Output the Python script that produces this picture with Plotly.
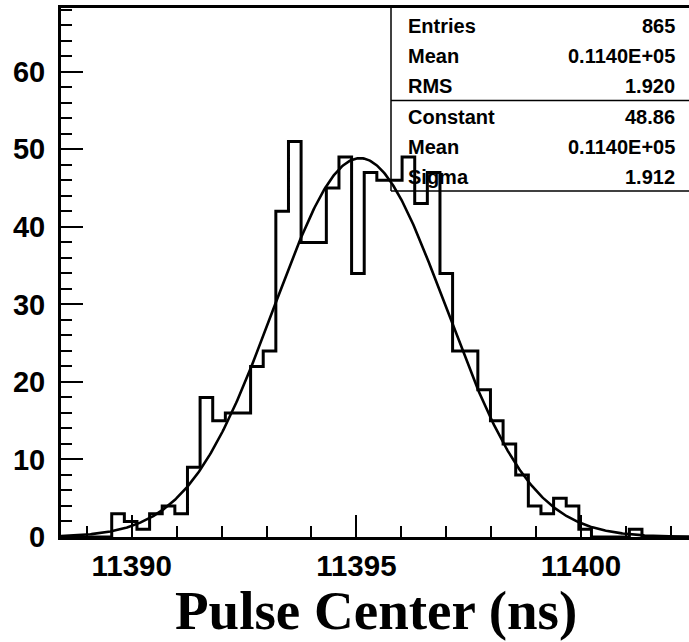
import numpy as np
import plotly.graph_objects as go

# ---------------- data ----------------
hist_start = 11388.431      # low edge of first bin (ns)
bin_width = 0.281           # ns
counts = [0, 0, 0, 0, 3, 2, 1, 3, 4, 3,
          9, 18, 15, 16, 16, 22, 24, 42, 51, 38,
          38, 45, 49, 34, 47, 46, 46, 49, 43, 47,
          34, 24, 24, 19, 15, 12, 8, 4, 3, 5,
          4, 1, 0, 0, 0, 1, 0, 0, 0, 0]

fit_constant = 48.86
fit_mean = 11395.08
fit_sigma = 1.912

stats_top_labels = ["Entries", "Mean", "RMS"]
stats_top_values = ["865", "0.1140E+05", "1.920"]
stats_fit_labels = ["Constant", "Mean", "Sigma"]
stats_fit_values = ["48.86", "0.1140E+05", "1.912"]

x_range = [11388.426, 11402.404]
y_range = [0, 68.23]
x_title = "Pulse Center (ns)"

# ---------------- geometry (pixels) ----------------
W, H = 689, 642
ML, MR, MT, MB = 61, 0, 8, 105
PW, PH = W - ML - MR, H - MT - MB


def px(xp):
    return (xp - ML) / PW


def py(yp):
    return (MT + PH - yp) / PH


# ---------------- histogram outline ----------------
edges = [hist_start + k * bin_width for k in range(len(counts) + 1)]
hx = edges
hy = counts + [counts[-1]]

fig = go.Figure()
fig.add_trace(go.Scatter(
    x=hx, y=hy, mode="lines", line=dict(shape="hv", color="black", width=3),
    hoverinfo="skip", showlegend=False))

# ---------------- fit curve ----------------
gx = np.linspace(x_range[0], x_range[1], 600)
gy = fit_constant * np.exp(-0.5 * ((gx - fit_mean) / fit_sigma) ** 2)
fig.add_trace(go.Scatter(
    x=gx, y=gy, mode="lines", line=dict(color="black", width=2.6),
    hoverinfo="skip", showlegend=False))

# ---------------- stats box ----------------
box_left, box_top, box_sep, box_bottom = 391, 8, 100.5, 191
line_style = dict(color="black", width=1.5)
fig.add_shape(type="line", xref="paper", yref="paper",
              x0=px(box_left), x1=px(box_left), y0=py(box_top), y1=py(box_bottom), line=line_style)
fig.add_shape(type="line", xref="paper", yref="paper",
              x0=px(box_left), x1=1.02, y0=py(box_sep), y1=py(box_sep), line=line_style)
fig.add_shape(type="line", xref="paper", yref="paper",
              x0=px(box_left), x1=1.02, y0=py(box_bottom), y1=py(box_bottom), line=line_style)

row_y = [26, 56, 86, 117, 147, 177]
labels = stats_top_labels + stats_fit_labels
values = stats_top_values + stats_fit_values
stat_font = dict(family="Liberation Sans", size=20, color="black", weight="bold")
for yy, lab, val in zip(row_y, labels, values):
    fig.add_annotation(xref="paper", yref="paper", x=px(406), y=py(yy), text=lab,
                       showarrow=False, xanchor="left", yanchor="middle", font=stat_font)
    fig.add_annotation(xref="paper", yref="paper", x=px(677), y=py(yy), text=val,
                       showarrow=False, xanchor="right", yanchor="middle", font=stat_font)

# ---------------- axis title ----------------
fig.add_annotation(xref="paper", yref="paper", x=px(376), y=py(610), text=x_title,
                   showarrow=False, xanchor="center", yanchor="middle",
                   font=dict(family="Liberation Serif", size=55, color="black", weight="bold"))

# ---------------- layout ----------------
fig.update_layout(
    width=W, height=H,
    margin=dict(l=ML, r=MR, t=MT, b=MB, pad=0),
    paper_bgcolor="white", plot_bgcolor="white",
    showlegend=False,
    xaxis=dict(
        range=x_range, showgrid=False, zeroline=False,
        showline=True, linecolor="black", linewidth=3, mirror=True,
        tickmode="linear", tick0=11390, dtick=5, tickformat="d",
        ticks="inside", ticklen=22, tickwidth=2, tickcolor="black",
        tickfont=dict(family="Liberation Sans", size=29.5, color="black", weight="bold"),
        ticklabelstandoff=1,
        minor=dict(dtick=1, tick0=11390, ticks="inside", ticklen=11, tickwidth=2,
                   tickcolor="black", showgrid=False),
    ),
    yaxis=dict(
        range=y_range, showgrid=False, zeroline=False,
        showline=True, linecolor="black", linewidth=3, mirror=False,
        tickmode="linear", tick0=0, dtick=10, tickformat="d",
        ticks="inside", ticklen=22, tickwidth=2, tickcolor="black",
        tickfont=dict(family="Liberation Sans", size=29, color="black", weight="bold"),
        ticklabelstandoff=7,
        minor=dict(dtick=2, tick0=0, ticks="inside", ticklen=11, tickwidth=2,
                   tickcolor="black", showgrid=False),
    ),
)

fig.write_html("out.html",
               config={"displayModeBar": False, "staticPlot": True},
               post_script="document.body.style.margin='0px';document.body.style.overflow='hidden';")
